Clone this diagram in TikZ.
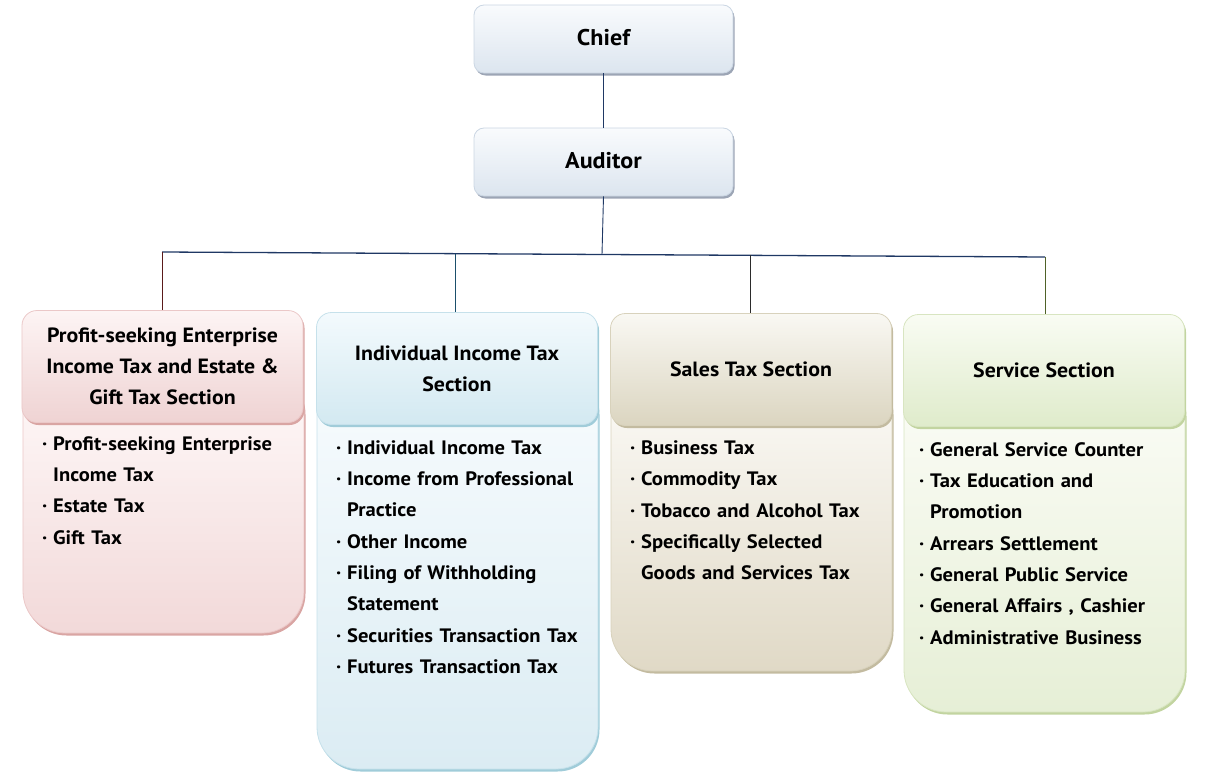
\documentclass[tikz,border=0pt]{standalone}
\usepackage{fontspec}
\setmainfont{PT Sans}[FakeStretch=1.06]
\usetikzlibrary{shadows}
\definecolor{chieftop}{HTML}{F9FBFD}
\definecolor{chiefbot}{HTML}{DCE5EF}
\definecolor{chiefbd}{HTML}{CBD6E3}
\definecolor{chiefsh}{HTML}{9CA5B5}
\definecolor{pinktop}{HTML}{FDF4F4}
\definecolor{pinkbot}{HTML}{EFD3D3}
\definecolor{pinkbd}{HTML}{EBC8C8}
\definecolor{pinksh}{HTML}{D9A5A3}
\definecolor{pinkbtop}{HTML}{FFFAFA}
\definecolor{pinkbbot}{HTML}{F2D9D9}
\definecolor{bluetop}{HTML}{F3FAFD}
\definecolor{bluebot}{HTML}{D3E9F1}
\definecolor{bluebd}{HTML}{C6E1EB}
\definecolor{bluesh}{HTML}{A0CCD9}
\definecolor{bluebtop}{HTML}{F8FCFE}
\definecolor{bluebbot}{HTML}{DBECF3}
\definecolor{tantop}{HTML}{F9F8F3}
\definecolor{tanbot}{HTML}{DBD5C0}
\definecolor{tanbd}{HTML}{D8D2BC}
\definecolor{tansh}{HTML}{C3BBA0}
\definecolor{tanbtop}{HTML}{FDFCF9}
\definecolor{tanbbot}{HTML}{E0D9C6}
\definecolor{grntop}{HTML}{F9FCF3}
\definecolor{grnbot}{HTML}{DFEBCB}
\definecolor{grnbd}{HTML}{D8E5C1}
\definecolor{grnsh}{HTML}{C2D4A0}
\definecolor{grnbtop}{HTML}{FCFDF8}
\definecolor{grnbbot}{HTML}{E6EFD6}
\definecolor{navy}{HTML}{1F3864}
\definecolor{lnpink}{HTML}{5A1A1A}
\definecolor{lnblue}{HTML}{1B4F6B}
\definecolor{lntan}{HTML}{2B2B2B}
\definecolor{lngrn}{HTML}{4F6228}
\newcommand\itm{\makebox[11bp][l]{·}}
\newcommand\cnt{\hspace*{11bp}}
\tikzset{
  shadowed/.style={drop shadow={shadow xshift=1.5bp,shadow yshift=-2.5bp,opacity=1,fill=#1}},
  topbox/.style={rectangle, rounded corners=10bp, minimum width=259bp, minimum height=68bp,
    inner sep=0pt, draw=chiefbd, line width=0.8bp, top color=chieftop, bottom color=chiefbot,
    shadowed=chiefsh, text height=17bp, text depth=4bp, font=\fontsize{22.8}{28}\selectfont\bfseries},
  headbox/.style n args={4}{rectangle, rounded corners=15bp, minimum width=281bp, minimum height=112bp,
    inner sep=0pt, align=center, draw=#3, line width=0.8bp, top color=#1, bottom color=#2,
    shadowed=#4, font=\fontsize{20.7}{31}\selectfont\bfseries},
  bodybox/.style n args={4}{rectangle, rounded corners=42bp, minimum width=281bp,
    inner sep=0pt, draw=#3, line width=0.8bp, top color=#1, bottom color=#2, shadowed=#4},
  items/.style={anchor=base west, inner sep=0pt, text width=262bp, align=left,
    font=\fontsize{19.5}{31.45}\selectfont\bfseries},
  link/.style={line width=0.9bp, draw=#1}
}
\begin{document}
\begin{tikzpicture}[x=1bp,y=-1bp]
\useasboundingbox (0,0) rectangle (1218,778);
% top boxes
\node[topbox] (chief) at (603.5,39) {Chief};
\node[topbox] (auditor) at (603.5,162) {Auditor};
% junctions
\coordinate (j1) at (162,252);
\coordinate (j2) at (455,253.7);
\coordinate (ja) at (602,254.5);
\coordinate (j3) at (750,255.4);
\coordinate (j4) at (1045,257);
% bodies
\node[bodybox={pinkbtop}{pinkbbot}{pinkbd}{pinksh}, minimum height=263bp] (b1) at (163.5,501.5) {};
\node[bodybox={bluebtop}{bluebbot}{bluebd}{bluesh}, minimum height=399bp] (b2) at (457.5,569.5) {};
\node[bodybox={tanbtop}{tanbbot}{tanbd}{tansh}, minimum height=301bp] (b3) at (751.5,520.5) {};
\node[bodybox={grnbtop}{grnbbot}{grnbd}{grnsh}, minimum height=340bp] (b4) at (1044.5,542) {};
% headers
\node[headbox={pinktop}{pinkbot}{pinkbd}{pinksh}] (h1) at (162.5,366.5) {Profit-seeking Enterprise\\Income Tax and Estate \&\\Gift Tax Section};
\node[headbox={bluetop}{bluebot}{bluebd}{bluesh}] (h2) at (457,368.5) {Individual Income Tax\\Section};
\node[headbox={tantop}{tanbot}{tanbd}{tansh}] (h3) at (751,369.5) {Sales Tax Section};
\node[headbox={grntop}{grnbot}{grnbd}{grnsh}] (h4) at (1044,370.5) {Service Section};
% connectors
\draw[link=navy] (chief) -- (auditor);
\draw[link=navy] (auditor.south) -- (ja);
\draw[link=navy, line width=1.3bp] (j1) -- (j4);
\draw[link=lnpink] (j1) -- (j1 |- h1.north);
\draw[link=lnblue] (j2) -- (j2 |- h2.north);
\draw[link=lntan] (j3) -- (j3 |- h3.north);
\draw[link=lngrn] (j4) -- (j4 |- h4.north);
% item texts
\node[items] (t1) at (42,450) {\itm Profit-seeking Enterprise\\\cnt Income Tax\\\itm Estate Tax\\\itm Gift Tax};
\node[items] (t2) at (336,454) {\itm Individual Income Tax\\\itm Income from Professional\\\cnt Practice\\\itm Other Income\\\itm Filing of Withholding\\\cnt Statement\\\itm Securities Transaction Tax\\\itm Futures Transaction Tax};
\node[items] (t3) at (630,454.5) {\itm Business Tax\\\itm Commodity Tax\\\itm Tobacco and Alcohol Tax\\\itm Specifically Selected\\\cnt Goods and Services Tax};
\node[items] (t4) at (919,456) {\itm General Service Counter\\\itm Tax Education and\\\cnt Promotion\\\itm Arrears Settlement\\\itm General Public Service\\\itm General Affairs , Cashier\\\itm Administrative Business};
\end{tikzpicture}
\end{document}
